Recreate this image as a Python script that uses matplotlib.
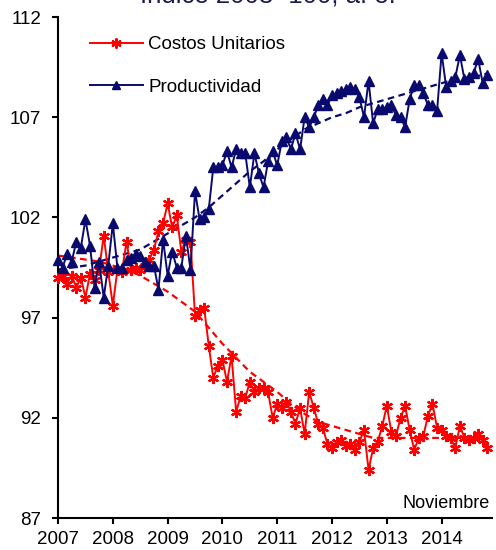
import numpy as np
import matplotlib
matplotlib.use("Agg")
import matplotlib.pyplot as plt

# Monthly index values, Jan 2007 - Nov 2014
costos = [
    99.0, 99.1, 98.7, 99.1, 98.5, 99.0, 98.0, 99.2, 98.9, 99.4, 101.1, 99.3,
    97.6, 99.4, 99.3, 100.8, 99.4, 99.5, 99.4, 99.6, 99.9, 100.4, 101.3, 101.7,
    102.7, 101.5, 102.1, 100.3, 100.9, 100.8, 97.1, 97.4, 97.5, 95.6, 94.0, 94.6,
    94.9, 93.8, 95.1, 92.3, 93.1, 93.0, 93.8, 93.3, 93.5, 93.5, 93.3, 92.0,
    92.7, 92.5, 92.8, 92.3, 91.7, 92.5, 91.2, 93.3, 92.5, 91.7, 91.5, 90.7,
    90.5, 90.8, 90.9, 90.6, 90.7, 90.4, 90.8, 91.4, 89.4, 90.5, 90.8, 91.6,
    92.6, 91.3, 91.1, 92.0, 92.6, 91.4, 90.4, 91.0, 91.1, 92.1, 92.7, 91.5,
    91.4, 91.1, 91.0, 90.5, 91.6, 91.0, 90.9, 91.0, 91.2, 90.9, 90.5,
]
productividad = [
    99.9, 99.5, 100.2, 99.8, 100.8, 100.5, 101.9, 100.6, 98.5, 99.8, 98.0, 99.6,
    101.7, 99.5, 99.5, 99.9, 100.0, 100.2, 100.1, 99.8, 99.6, 99.6, 98.4, 100.9,
    99.1, 100.3, 99.5, 99.5, 101.1, 99.4, 103.3, 101.9, 102.0, 102.4, 104.5, 104.5,
    104.6, 105.3, 104.5, 105.4, 105.2, 105.2, 103.5, 105.2, 104.2, 103.5, 104.8, 105.3,
    104.6, 105.8, 106.0, 105.4, 106.2, 105.4, 107.0, 106.5, 107.0, 107.6, 107.9, 107.6,
    108.1, 108.2, 108.3, 108.4, 108.5, 108.4, 108.0, 107.0, 108.8, 106.7, 107.4, 107.4,
    107.5, 107.6, 107.1, 107.0, 106.5, 107.9, 108.6, 108.6, 108.2, 107.6, 107.6, 107.3,
    110.2, 108.5, 108.8, 109.0, 110.1, 108.9, 109.0, 109.2, 109.9, 108.7, 109.1,
]

# Trend lines, read quarterly
trend_months_prod = list(range(0, 94, 3)) + [94]
trend_prod = [
    99.4, 99.5, 99.6, 99.8, 100.0, 100.2, 100.4, 100.8, 101.2, 101.6, 102.0,
    102.5, 103.1, 103.7, 104.3, 104.8, 105.4, 105.9, 106.4, 106.7, 107.0,
    107.2, 107.5, 107.7, 107.9, 108.1, 108.3, 108.5, 108.7, 108.9, 109.0,
    109.1, 109.2,
]
trend_months_cost = list(range(0, 94, 3))
trend_cost = [
    100.1, 100.0, 99.9, 99.8, 99.6, 99.4, 99.1, 98.7, 98.3, 97.8, 97.3,
    96.5, 95.7, 95.0, 94.3, 93.8, 93.3, 92.7, 92.2, 91.8, 91.6,
    91.4, 91.2, 91.0, 91.0, 91.0, 91.0, 91.0, 91.0, 91.0, 91.0, 91.0,
]

year_ticks = list(range(2007, 2015))
y_ticks = [87, 92, 97, 102, 107, 112]

RED = "#ff0000"
NAVY = "#0a0a6e"
FS = 13.5

plt.rcParams["font.family"] = ["Liberation Sans", "DejaVu Sans"]

fig = plt.figure(figsize=(4.96, 5.5), dpi=100)
ax = fig.add_axes([0.117, 0.058, 0.875, 0.911])

x_m = 2007 + np.arange(len(costos)) / 12
x_tp = 2007 + np.array(trend_months_prod) / 12
x_tc = 2007 + np.array(trend_months_cost) / 12

# trend lines (dashed)
ax.plot(x_tc, trend_cost, color=RED, lw=1.6, ls=(0, (3, 2)), zorder=2)
ax.plot(x_tp, trend_prod, color=NAVY, lw=1.6, ls=(0, (3, 2)), zorder=2)

# monthly series
ax.plot(x_m, costos, color=RED, lw=1.4, marker=(6, 2, 0), ms=8, mew=1.6,
        label="Costos Unitarios", zorder=3, clip_on=False)
ax.plot(x_m, productividad, color=NAVY, lw=1.4, marker="^", ms=7,
        label="Productividad", zorder=4, clip_on=False)

ax.set_xlim(2007, 2014.92)
ax.set_ylim(87, 112)
ax.set_xticks(year_ticks)
ax.set_xticklabels([str(y) for y in year_ticks])
ax.set_yticks(y_ticks)

for side in ["top", "right"]:
    ax.spines[side].set_visible(False)
for side in ["left", "bottom"]:
    ax.spines[side].set_linewidth(1.5)
ax.tick_params(axis="both", direction="out", length=4, width=1.5,
               labelsize=FS, colors="black")
ax.tick_params(axis="y", pad=8)
ax.tick_params(axis="x", pad=5)

leg = ax.legend(loc="upper left", bbox_to_anchor=(0.074, 0.962), frameon=False,
                fontsize=FS, handlelength=2.8, handletextpad=0.3,
                labelspacing=1.35, borderaxespad=0, borderpad=0, markerscale=0.9)

ax.text(0.995, 0.012, "Noviembre", transform=ax.transAxes, ha="right",
        va="bottom", fontsize=13)

# title, cut off by the top edge of the picture
fig.text(0.54, 0.9955, "Indice 2003=100, a. e.", ha="center", va="baseline",
         fontsize=18.5, color="#1a1a4e")

fig.savefig("out.png", dpi=100)
